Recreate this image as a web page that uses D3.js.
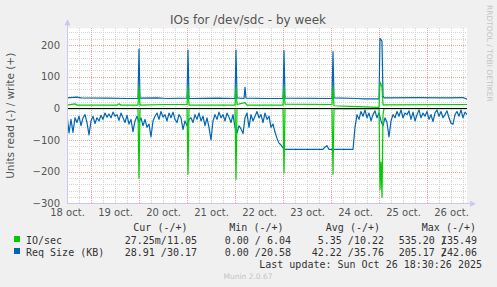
<!DOCTYPE html>
<html>
<head>
<meta charset="utf-8">
<script src="https://cdn.jsdelivr.net/npm/d3@7"></script>
<style>
  body { margin: 0; background: #f0f0f0; }
  svg { display: block; }
</style>
</head>
<body>
<script>
// time axis: hours after 18 oct 12:00 (rrd step shown here = 1h for the noisy series)
var dayLabels = ["18 oct.", "19 oct.", "20 oct.", "21 oct.", "22 oct.", "23 oct.", "24 oct.", "25 oct.", "26 oct."];
var yTicks = [-300, -200, -100, 0, 100, 200];

// Req Size (KB), read side (drawn negative), one value per hour
var reqRead = [-20, -78, -35, -76, -30, -45, -25, -55, -30, -20, -45, -84, -40, -25, -48, -30, -40, -22, -35, -15,
  -28, -18, -30, -12, -25, -20, -38, -15, -30, -45, -22, -50, -35, -74, -40, -25, -45, -30, -55, -35,
  -60, -50, -90, -40, -25, -15, -35, -10, -28, -20, -40, -15, -30, -12, -35, -45, -20, -30, -67, -40,
  -55, -35, -30, -45, -20, -35, -15, -40, -25, -55, -30, -60, -100, -40, -20, -35, -12, -30, -20, -40,
  -15, -28, -45, -20, -60, -78, -55, -65, -80, -30, -15, -60, -20, -40, -25, -10, -30, -20, -45, -15,
  -35, -25, -60, -50, -75, -95, -110, -116, -125, -130, -130, -130, -130, -130, -130, -130, -130, -130, -130, -130,
  -130, -130, -130, -130, -130, -130, -130, -130, -130, -122, -118, -130, -130, -130, -130, -130, -130, -130, -130, -130,
  -130, -130, -130, -130, -60, -20, -35, -10, -25, -5, -30, -15, -40, -20, -8, -30, -15, -40, -55, -30,
  -45, -90, -40, -20, -30, -10, -25, -5, -30, -15, -20, -8, -35, -12, -40, -20, -5, -30, -15, -25,
  -10, -35, -20, -42, -15, -5, -25, -10, -30, -20, -8, -30, -47, -50, -20, -10, -25, -5, -30, -12, -20];

// Req Size (KB), write side: [hour, value]
var reqWrite = [[0, 33], [5, 35], [7, 33], [20, 32], [30, 31], [35.5, 31], [36, 187], [36.5, 32], [45, 33], [50, 31],
  [60, 32], [60.5, 184], [61, 31], [75, 32], [84, 31], [84.5, 184], [85, 33], [88.5, 31], [89, 66], [89.5, 32],
  [100, 31], [108, 31], [108.5, 182], [109, 32], [132.5, 31], [133, 179], [133.5, 33], [145, 31], [148, 30],
  [156, 30], [156.5, 221], [157.5, 212], [158, 40], [158.5, 33], [175, 34], [190, 33], [198, 34], [200, 29]];

// IO/sec, write side: [hour, value]
var ioWrite = [[0, 10], [4, 14], [5, 10], [25, 10], [26, 14], [27, 10], [35.5, 10], [36, 67], [36.5, 10], [50, 12],
  [60, 12], [60.5, 67], [61, 10], [84, 10], [84.5, 67], [85, 12], [89, 18], [90, 10], [108, 10], [108.5, 67],
  [109, 13], [132.5, 12], [133, 67], [133.5, 8], [145, 5], [156, 3], [156.5, 83], [157.5, 67], [158, 11], [200, 12]];

// IO/sec, read side (drawn negative): [hour, value]
var ioRead = [[0, -1], [35.5, -1], [36, -221], [36.5, -1], [60, -1], [60.5, -208], [61, -1], [84, -1], [84.5, -224],
  [85, -1], [108, -1], [108.5, -204], [109, -1], [132.5, -1], [133, -208], [133.5, -1], [156, -2], [156.5, -256],
  [157, -170], [157.5, -281], [158, -20], [158.5, -1], [200, -1]];

var legendHead = ["Cur (-/+)", "Min (-/+)", "Avg (-/+)", "Max (-/+)"];
var legendRows = [
  {name: "IO/sec", color: "#00cc00", vals: ["27.25m/11.05", "0.00 / 6.04", "5.35 /10.22", ["535.20", "135.49"]]},
  {name: "Req Size (KB)", color: "#0066b3", vals: ["28.91 /30.17", "0.00 /20.58", "42.22 /35.76", ["205.17", "242.06"]]}
];

var w = 497, h = 287;
var pLeft = 67, pRight = 467, pTop = 28.3, pBottom = 203.3;
var start = Date.UTC(2025, 9, 18, 12);
var hourMs = 3600000;
function t(hr) { return new Date(start + hr * hourMs); }

var svg = d3.select("body").append("svg")
  .attr("width", w)
  .attr("height", h);

svg.append("rect").attr("width", w).attr("height", h).attr("fill", "#f0f0f0");

var x = d3.scaleUtc().domain([t(0), t(200)]).range([pLeft, pRight]);
var y = d3.scaleLinear().domain([-300, 252.6]).range([pBottom, pTop]);

// plot area
svg.append("rect")
  .attr("x", pLeft).attr("y", pTop)
  .attr("width", pRight - pLeft).attr("height", pBottom - pTop)
  .attr("fill", "#ffffff");

// grid: minor
var grid = svg.append("g").attr("shape-rendering", "crispEdges");
var minorX = d3.utcHour.every(6).range(t(0), t(200.1));
grid.selectAll("line.vmin").data(minorX).enter().append("line")
  .attr("x1", d => Math.round(x(d)) + 0.5).attr("x2", d => Math.round(x(d)) + 0.5)
  .attr("y1", pTop).attr("y2", pBottom)
  .attr("stroke", "#d4d4d4").attr("stroke-dasharray", "1,1");
grid.selectAll("line.hmin").data(d3.range(-300, 253, 20)).enter().append("line")
  .attr("x1", pLeft).attr("x2", pRight)
  .attr("y1", d => Math.round(y(d)) + 0.5).attr("y2", d => Math.round(y(d)) + 0.5)
  .attr("stroke", "#d4d4d4").attr("stroke-dasharray", "1,1");
// grid: major (midnights, hundreds)
var majorX = d3.utcDay.range(t(0), t(200));
grid.selectAll("line.vmaj").data(majorX).enter().append("line")
  .attr("x1", d => Math.round(x(d)) + 0.5).attr("x2", d => Math.round(x(d)) + 0.5)
  .attr("y1", pTop).attr("y2", pBottom)
  .attr("stroke", "#ee9c9c").attr("stroke-dasharray", "1,1");
grid.selectAll("line.hmaj").data(yTicks).enter().append("line")
  .attr("x1", pLeft).attr("x2", pRight)
  .attr("y1", d => Math.round(y(d)) + 0.5).attr("y2", d => Math.round(y(d)) + 0.5)
  .attr("stroke", "#ee9c9c").attr("stroke-dasharray", "1,1");

// axes text
var yAxis = svg.append("g")
  .attr("transform", "translate(" + (pLeft - 7) + ",0)")
  .call(d3.axisLeft(y).tickValues(yTicks).tickSize(0).tickPadding(0));
yAxis.select(".domain").remove();
yAxis.selectAll("text")
  .attr("font-family", "DejaVu Sans").attr("font-size", "10px").attr("fill", "#555");

var labelDays = dayLabels.map((d, i) => t(i * 24));
var xAxis = svg.append("g")
  .attr("transform", "translate(0," + (pBottom + 6) + ")")
  .call(d3.axisBottom(x).tickValues(labelDays).tickSize(0).tickPadding(0)
    .tickFormat((d, i) => dayLabels[i]));
xAxis.select(".domain").remove();
xAxis.selectAll("text")
  .attr("font-family", "DejaVu Sans").attr("font-size", "10px").attr("fill", "#555");

// series
svg.append("clipPath").attr("id", "plot").append("rect")
  .attr("x", pLeft).attr("y", pTop).attr("width", pRight - pLeft).attr("height", pBottom - pTop);
var line = d3.line().x(d => x(t(d[0]))).y(d => y(d[1]));
var reqReadPts = reqRead.map((v, i) => [i, v]);
var series = [
  {pts: reqReadPts, color: "#0066b3"},
  {pts: reqWrite, color: "#0066b3"},
  {pts: ioRead, color: "#00cc00"},
  {pts: ioWrite, color: "#00cc00"}
];
svg.append("g").attr("clip-path", "url(#plot)")
  .selectAll("path").data(series).enter().append("path")
  .attr("d", d => line(d.pts))
  .attr("fill", "none")
  .attr("stroke", d => d.color)
  .attr("stroke-width", 1.2)
  .attr("stroke-linejoin", "round");

// zero line
svg.append("line")
  .attr("x1", pLeft).attr("x2", pRight)
  .attr("y1", Math.round(y(0)) + 0.5).attr("y2", Math.round(y(0)) + 0.5)
  .attr("stroke", "#000").attr("shape-rendering", "crispEdges");

// axis lines + arrows
svg.append("line").attr("x1", pLeft + 0.5).attr("x2", pLeft + 0.5).attr("y1", pTop - 3).attr("y2", pBottom)
  .attr("stroke", "#c8c8f0").attr("shape-rendering", "crispEdges");
svg.append("line").attr("x1", pLeft).attr("x2", pRight + 3).attr("y1", pBottom + 0.5).attr("y2", pBottom + 0.5)
  .attr("stroke", "#c8c8f0").attr("shape-rendering", "crispEdges");
svg.append("path").attr("d", "M" + (pLeft - 2.5) + "," + (pTop - 3) + "L" + (pLeft + 3.5) + "," + (pTop - 3) + "L" + (pLeft + 0.5) + "," + (pTop - 9) + "Z")
  .attr("fill", "#c8c8f0");
svg.append("path").attr("d", "M" + (pRight + 3) + "," + (pBottom - 2.5) + "L" + (pRight + 3) + "," + (pBottom + 3.5) + "L" + (pRight + 9) + "," + (pBottom + 0.5) + "Z")
  .attr("fill", "#c8c8f0");

// title
svg.append("text")
  .attr("x", 248).attr("y", 24)
  .attr("text-anchor", "middle")
  .attr("font-family", "DejaVu Sans").attr("font-size", "12px").attr("fill", "#555")
  .text("IOs for /dev/sdc - by week");

// y label
svg.append("text")
  .attr("transform", "translate(14," + ((pTop + pBottom) / 2) + ") rotate(-90)")
  .attr("text-anchor", "middle")
  .attr("font-family", "DejaVu Sans").attr("font-size", "10.5px").attr("fill", "#555")
  .text("Units read (-) / write (+)");

// rrdtool watermark
svg.append("text")
  .attr("transform", "translate(487,5) rotate(90)")
  .attr("font-family", "DejaVu Sans").attr("font-size", "7.5px").attr("fill", "#c4c4c4")
  .text("RRDTOOL / TOBI OETIKER");

// legend
var mono = "DejaVu Sans Mono";
var colEnd = [197, 291, 384, 477];
var headEnd = [187.5, 283.5, 380, 476];
var cw = 6.02;
svg.append("g").selectAll("text").data(legendHead).enter().append("text")
  .attr("x", (d, i) => headEnd[i]).attr("y", 231)
  .attr("text-anchor", "end")
  .attr("font-family", mono).attr("font-size", "10px").attr("fill", "#333")
  .text(d => d);

legendRows.forEach(function (row, r) {
  var yy = 243.5 + r * 12;
  svg.append("rect").attr("x", 14).attr("y", yy - 7.5).attr("width", 6).attr("height", 6).attr("fill", row.color);
  svg.append("text").attr("x", 26).attr("y", yy)
    .attr("font-family", mono).attr("font-size", "10px").attr("fill", "#333")
    .text(row.name);
  row.vals.forEach(function (v, i) {
    if (Array.isArray(v)) {
      // rrdtool overprints the "/" on the first digit of the write max
      svg.append("text").attr("x", colEnd[i]).attr("y", yy).attr("text-anchor", "end")
        .attr("font-family", mono).attr("font-size", "10px").attr("fill", "#333")
        .text(v[0] + " " + v[1]);
      svg.append("text").attr("x", colEnd[i] - v[1].length * cw).attr("y", yy)
        .attr("font-family", mono).attr("font-size", "10px").attr("fill", "#333")
        .text("/");
    } else {
      svg.append("text").attr("x", colEnd[i]).attr("y", yy).attr("text-anchor", "end")
        .attr("font-family", mono).attr("font-size", "10px").attr("fill", "#333")
        .text(v);
    }
  });
});

svg.append("text")
  .attr("x", 482).attr("y", 267.5).attr("text-anchor", "end")
  .attr("font-family", mono).attr("font-size", "10px").attr("fill", "#333")
  .text("Last update: Sun Oct 26 18:30:26 2025");

svg.append("text")
  .attr("x", 248).attr("y", 279).attr("text-anchor", "middle")
  .attr("font-family", "DejaVu Sans").attr("font-size", "7.5px").attr("fill", "#c4c4c4")
  .text("Munin 2.0.67");
</script>
</body>
</html>
